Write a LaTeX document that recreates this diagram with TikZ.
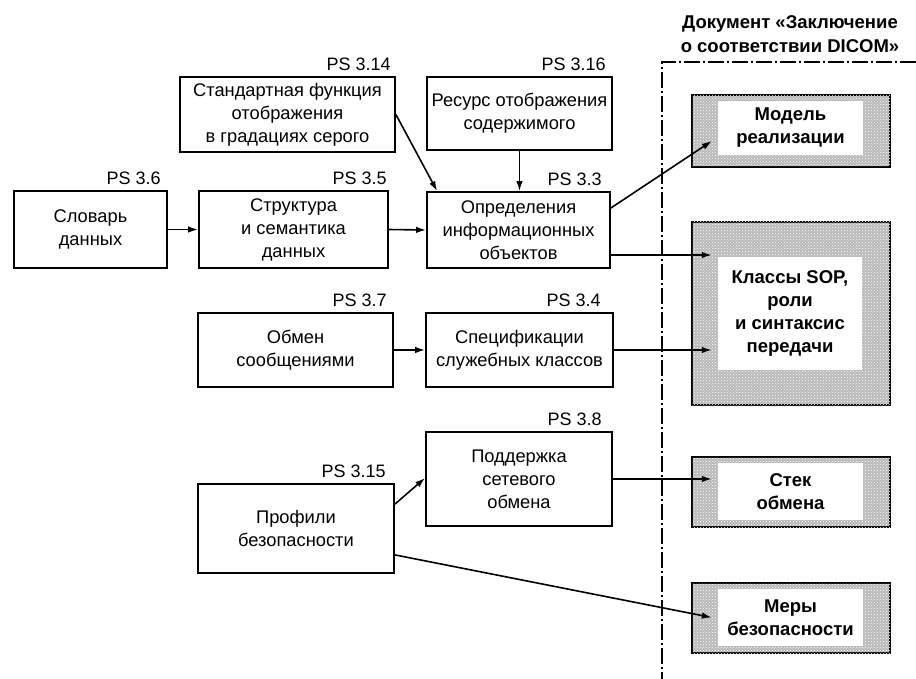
\documentclass[tikz,border=0pt]{standalone}
\usepackage{fontspec}
\setmainfont{Liberation Sans}
\usetikzlibrary{arrows.meta,patterns,calc}
\begin{document}
\begin{tikzpicture}[x=1pt,y=-1pt,
  box/.style={draw,line width=1.8pt,fill=white,inner sep=1pt,align=center,
    font=\fontsize{18.3}{23}\selectfont},
  lab/.style={anchor=south east,inner sep=1pt,xshift=-6pt,yshift=4pt,
    font=\fontsize{18}{20}\selectfont},
  frame/.style={draw,line width=2.4pt,fill=gray!55,inner sep=0pt,
    postaction={pattern=crosshatch dots,pattern color=white}},
  inner/.style={fill=white,inner sep=0pt,align=center,
    font=\bfseries\fontsize{18.5}{23}\selectfont},
  conn/.style={line width=1.6pt,-{Latex[length=10pt,width=6.5pt]}},
  dashdot/.style={line width=1.2pt,dash pattern=on 16pt off 3pt on 2pt off 3pt}
]
\useasboundingbox (0,0) rectangle (916,679);
\fill[white] (0,0) rectangle (916,679);

% left boxes
\node[box,minimum width=153pt,minimum height=77pt,
  label={[lab]north east:PS 3.6}] (dict) at (90.5,229.5) {Словарь\\данных};
\node[box,minimum width=189pt,minimum height=77pt,
  label={[lab,xshift=5pt]north east:PS 3.5}] (struct) at (293.5,229.5) {Структура\\и семантика\\данных};
\node[box,minimum width=215pt,minimum height=75pt,
  label={[lab,xshift=2pt]north east:PS 3.14}] (gsdf) at (287.5,114.5) {Стандартная функция\\отображения\\в градациях серого};
\node[box,minimum width=185pt,minimum height=73pt,
  label={[lab]north east:PS 3.16}] (res) at (519.5,113.5) {Ресурс отображения\\содержимого};
\node[box,minimum width=183pt,minimum height=76pt,
  label={[lab,xshift=-2pt]north east:PS 3.3}] (iod) at (518.5,230) {Определения\\информационных\\объектов};
\node[box,minimum width=195pt,minimum height=74pt,
  label={[lab]north east:PS 3.7}] (msg) at (295.5,350) {Обмен\\сообщениями};
\node[box,minimum width=187pt,minimum height=74pt,
  label={[lab,xshift=-6pt]north east:PS 3.4}] (svc) at (519.5,350) {Спецификации\\служебных классов};
\node[box,minimum width=196pt,minimum height=89pt,
  label={[lab,xshift=-2pt]north east:PS 3.15}] (sec) at (296,528.5) {Профили\\безопасности};
\node[box,minimum width=186pt,minimum height=94pt,
  label={[lab,xshift=-4pt]north east:PS 3.8}] (net) at (519,479) {Поддержка\\сетевого\\обмена};

% conformance statement frame
\draw[dashdot] (916,62) -- (662,62) -- (662,679);
\node[anchor=center,align=center,font=\bfseries\fontsize{18.5}{24}\selectfont] (title) at (790,34)
  {Документ «Заключение\\о соответствии DICOM»};

% right boxes
\node[frame,minimum width=198pt,minimum height=72pt] (model) at (791,131) {};
\node[inner,minimum width=145pt,minimum height=54pt] (modelin) at (790.5,128) {Модель\\реализации};
\node[frame,minimum width=198pt,minimum height=183pt] (sop) at (791,313.5) {};
\node[inner,minimum width=144pt,minimum height=113pt] (sopin) at (790,313.5) {Классы SOP,\\роли\\и синтаксис\\передачи};
\node[frame,minimum width=198pt,minimum height=70pt] (stack) at (791,492) {};
\node[inner,minimum width=145pt,minimum height=57pt] (stackin) at (790.5,491.5) {Стек\\обмена};
\node[frame,minimum width=198pt,minimum height=70pt] (meas) at (791,618) {};
\node[inner,minimum width=145pt,minimum height=57pt] (measin) at (790.5,617.5) {Меры\\безопасности};

% connectors
\draw[conn] (dict.east) -- (struct.west);
\draw[conn] (struct.east) -- (iod.west);
\draw[conn] (gsdf.east) -- ([xshift=11pt]iod.north west);
\draw[conn] (res.south) -- (res.south |- iod.north);
\draw[conn] ([yshift=22pt]iod.east) -- ([xshift=-6pt,yshift=-13pt]modelin.west);
\draw[conn] ([yshift=-25pt]iod.east) -- ([xshift=-6pt,yshift=-25pt]iod.east -| sopin.west);
\draw[conn] (msg.east) -- (svc.west);
\draw[conn] (svc.east) -- ([xshift=-6pt]svc.east -| sopin.west);
\draw[conn] ([yshift=-21pt]sec.north east) -- ([yshift=1pt]net.west);
\draw[conn] (net.east) -- ([xshift=-6pt]net.east -| stackin.west);
\draw[conn] ([yshift=19pt]sec.south east) -- ([xshift=-6pt]measin.west);
\end{tikzpicture}
\end{document}
